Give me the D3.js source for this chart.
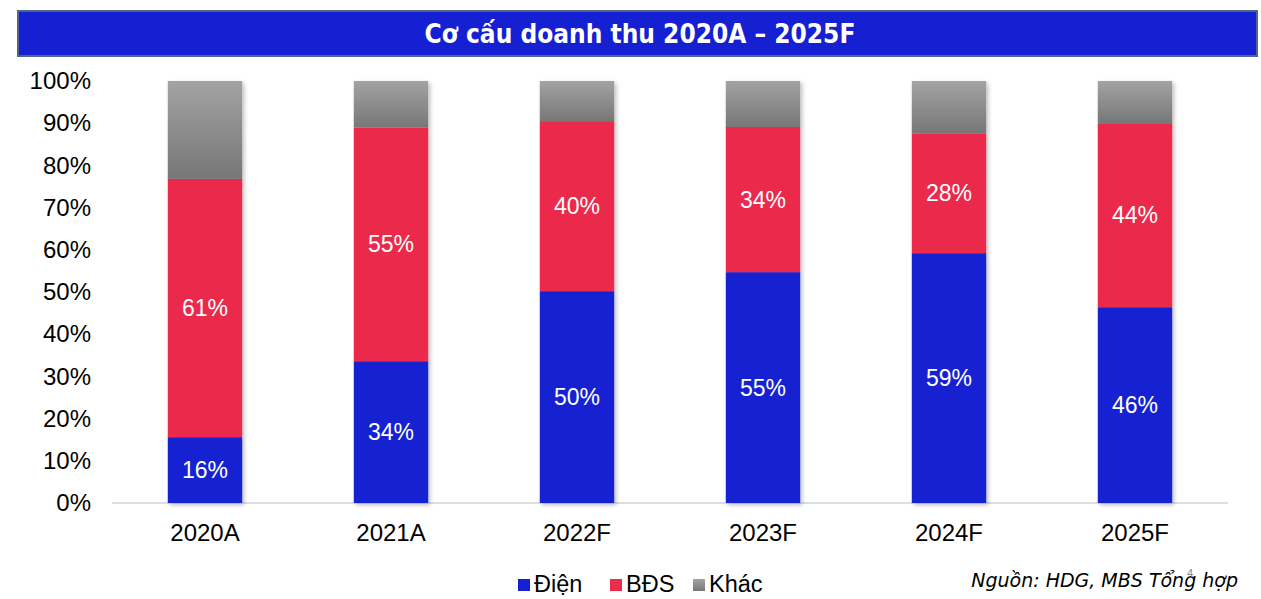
<!DOCTYPE html>
<html>
<head>
<meta charset="utf-8">
<script src="https://cdn.jsdelivr.net/npm/d3@7"></script>
<style>
  body { margin: 0; background: #fff; }
  text { font-family: "Liberation Sans", Arial, sans-serif; }
</style>
</head>
<body>
<div id="chart"></div>
<script>
// du lieu doc tu hinh
const years = ["2020A", "2021A", "2022F", "2023F", "2024F", "2025F"];
const dien = [0.156, 0.336, 0.502, 0.547, 0.592, 0.464];
const bds = [0.612, 0.554, 0.403, 0.344, 0.284, 0.436];
const khac = years.map((y, i) => 1 - dien[i] - bds[i]);
const yTicks = [0, 0.1, 0.2, 0.3, 0.4, 0.5, 0.6, 0.7, 0.8, 0.9, 1];
const seriesNames = ["Điện", "BĐS", "Khác"];

const width = 1261, height = 599;
const svg = d3.select("#chart")
    .append("svg")
    .attr("width", width)
    .attr("height", height);

const defs = svg.append("defs");
const grad = defs.append("linearGradient")
    .attr("id", "gray")
    .attr("x1", 0).attr("y1", 0).attr("x2", 0).attr("y2", 1);
grad.append("stop").attr("offset", "0%").attr("stop-color", "#a3a3a3");
grad.append("stop").attr("offset", "100%").attr("stop-color", "#777777");

const shadow = defs.append("filter").attr("id", "shadow")
    .attr("x", "-20%").attr("y", "-5%").attr("width", "150%").attr("height", "115%");
shadow.append("feDropShadow")
    .attr("dx", 2).attr("dy", 2).attr("stdDeviation", 2)
    .attr("flood-color", "#000").attr("flood-opacity", 0.25);

// thanh tieu de
svg.append("rect")
    .attr("x", 18).attr("y", 11)
    .attr("width", 1239).attr("height", 45)
    .attr("fill", "#1520d2")
    .attr("stroke", "#4c6787")
    .attr("stroke-width", 2);
svg.append("text")
    .attr("x", 640).attr("y", 43)
    .attr("text-anchor", "middle")
    .attr("fill", "#fff")
    .attr("font-weight", "bold")
    .attr("font-size", "26px")
    .style("font-family", "'DejaVu Sans Condensed', 'DejaVu Sans', sans-serif")
    .style("font-stretch", "condensed")
    .text("Cơ cấu doanh thu 2020A – 2025F");

const x = d3.scaleBand().domain(years).range([112, 1228]).paddingInner(0.6).paddingOuter(0.3);
const y = d3.scaleLinear().domain([0, 1]).range([503, 81]);

const colors = { "Điện": "#1520d2", "BĐS": "#eb2c4c", "Khác": "url(#gray)" };

const table = years.map((yr, i) => ({ year: yr, "Điện": dien[i], "BĐS": bds[i], "Khác": khac[i] }));
const stacked = d3.stack().keys(seriesNames)(table);

// truc y
svg.append("g")
    .attr("transform", "translate(91,0)")
    .call(d3.axisLeft(y).tickValues(yTicks).tickFormat(d3.format(".0%")).tickSize(0).tickPadding(0))
    .call(g => g.select(".domain").remove())
    .call(g => g.selectAll("text").attr("font-size", "24px").attr("fill", "#000")
        .attr("font-family", "Liberation Sans, Arial, sans-serif"));

// duong truc x
svg.append("line")
    .attr("x1", 112).attr("x2", 1228)
    .attr("y1", y(0)).attr("y2", y(0))
    .attr("stroke", "#d9dee8").attr("stroke-width", 2);

const bars = svg.append("g").attr("filter", "url(#shadow)");
stacked.forEach(s => {
    bars.selectAll(null)
        .data(s)
        .enter().append("rect")
        .attr("x", d => x(d.data.year))
        .attr("width", x.bandwidth())
        .attr("y", d => y(d[1]))
        .attr("height", d => y(d[0]) - y(d[1]))
        .attr("fill", colors[s.key]);
});

// nhan tren cot
stacked.filter(s => s.key !== "Khác").forEach(s => {
    svg.selectAll(null)
        .data(s)
        .enter().append("text")
        .attr("x", d => x(d.data.year) + x.bandwidth() / 2)
        .attr("y", d => y((d[0] + d[1]) / 2) + 8)
        .attr("text-anchor", "middle")
        .attr("fill", "#fff")
        .attr("font-size", "23px")
        .text(d => Math.round((d[1] - d[0]) * 100) + "%");
});

// truc x
svg.append("g")
    .attr("transform", "translate(0,541)")
    .call(d3.axisBottom(x).tickSize(0).tickPadding(0))
    .call(g => g.select(".domain").remove())
    .call(g => g.selectAll("text").attr("font-size", "24px").attr("fill", "#000")
        .attr("dy", 0)
        .attr("font-family", "Liberation Sans, Arial, sans-serif"));

// chu thich
const legendX = [518, 610, 693];
const legend = svg.append("g");
seriesNames.forEach((name, i) => {
    legend.append("rect")
        .attr("x", legendX[i]).attr("y", 579)
        .attr("width", 12).attr("height", 12)
        .attr("fill", colors[name]);
    legend.append("text")
        .attr("x", legendX[i] + 16).attr("y", 592)
        .attr("font-size", "23.5px")
        .attr("fill", "#000")
        .text(name);
});

// nguon
svg.append("text")
    .attr("x", 1238).attr("y", 587)
    .attr("text-anchor", "end")
    .attr("font-style", "italic")
    .attr("font-size", "19px")
    .style("font-family", "DejaVu Sans, Verdana, sans-serif")
    .attr("fill", "#000")
    .text("Nguồn: HDG, MBS Tổng hợp");

svg.append("text")
    .attr("x", 1190).attr("y", 577)
    .attr("text-anchor", "middle")
    .attr("font-size", "11px")
    .attr("fill", "#888")
    .text("4");
</script>
</body>
</html>
